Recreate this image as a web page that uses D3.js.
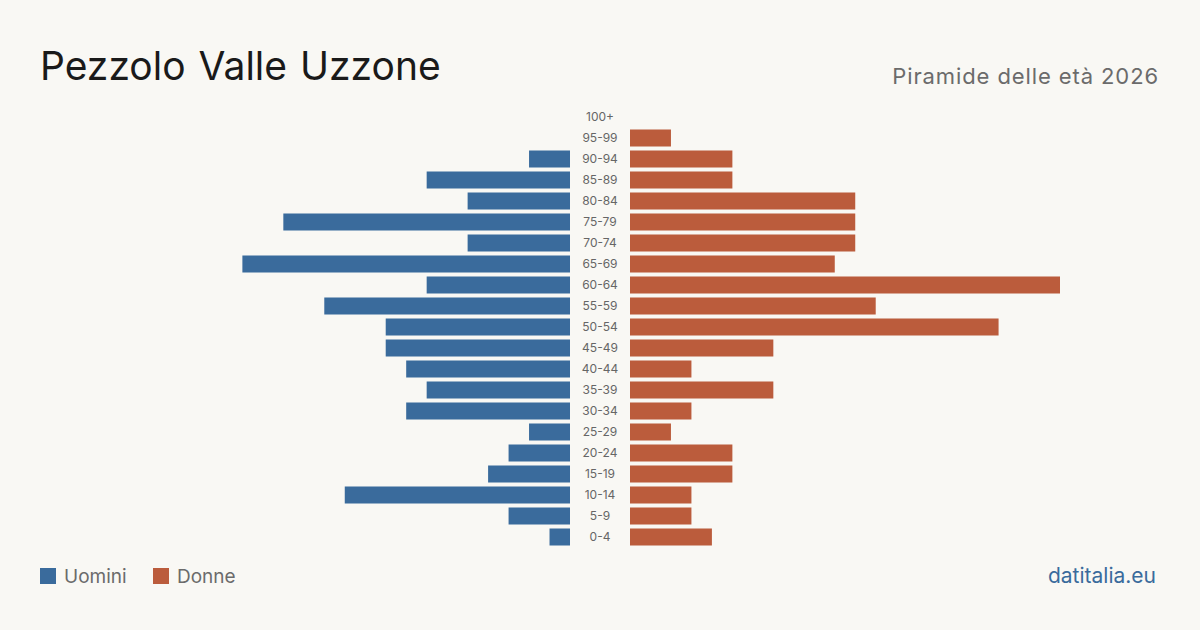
<!DOCTYPE html>
<html lang="it">
<head>
<meta charset="UTF-8">
<title>Pezzolo Valle Uzzone - Piramide delle età 2026</title>
<style>
    body { margin: 0; background: #f9f8f4; }
    svg { display: block; font-family: Inter, "Noto Sans", sans-serif; }
</style>
</head>
<body>
<div id="chart"></div>
<script src="https://d3js.org/d3.v7.min.js"></script>
<script>
    const ageGroups = ["100+", "95-99", "90-94", "85-89", "80-84", "75-79", "70-74", "65-69",
        "60-64", "55-59", "50-54", "45-49", "40-44", "35-39", "30-34", "25-29",
        "20-24", "15-19", "10-14", "5-9", "0-4"];
    const uomini = [0, 0, 2, 7, 5, 14, 5, 16, 7, 12, 9, 9, 8, 7, 8, 2, 3, 4, 11, 3, 1];
    const donne  = [0, 2, 5, 5, 11, 11, 11, 10, 21, 12, 18, 7, 3, 7, 3, 2, 5, 5, 3, 3, 4];

    const width = 1200, height = 630;
    const blue = "#3a6b9c", red = "#bb5c3c";

    const svg = d3.select("#chart").append("svg")
        .attr("width", width)
        .attr("height", height);

    svg.append("rect").attr("width", width).attr("height", height).attr("fill", "#f9f8f4");

    const y = d3.scaleBand()
        .domain(ageGroups)
        .range([106.5, 547.5])
        .paddingInner(0.19)
        .paddingOuter(0.095);

    const maxVal = d3.max(uomini.concat(donne));
    const xLeft = d3.scaleLinear().domain([0, maxVal]).range([570, 570 - 430]);
    const xRight = d3.scaleLinear().domain([0, maxVal]).range([630, 630 + 430]);

    // uomini
    svg.append("g").selectAll("rect")
        .data(ageGroups)
        .join("rect")
        .attr("x", (d, i) => xLeft(uomini[i]))
        .attr("y", d => y(d))
        .attr("width", (d, i) => xLeft(0) - xLeft(uomini[i]))
        .attr("height", y.bandwidth())
        .attr("fill", blue);

    // donne
    svg.append("g").selectAll("rect")
        .data(ageGroups)
        .join("rect")
        .attr("x", xRight(0))
        .attr("y", d => y(d))
        .attr("width", (d, i) => xRight(donne[i]) - xRight(0))
        .attr("height", y.bandwidth())
        .attr("fill", red);

    // etichette età
    svg.append("g").selectAll("text")
        .data(ageGroups)
        .join("text")
        .attr("x", 600)
        .attr("y", d => y(d) + y.bandwidth() / 2)
        .attr("dy", "0.35em")
        .attr("text-anchor", "middle")
        .attr("font-size", 12)
        .attr("fill", "#666")
        .text(d => d);

    // titoli
    svg.append("text")
        .attr("x", 40).attr("y", 80)
        .attr("font-size", 39)
        .attr("fill", "#1a1a1a")
        .attr("word-spacing", 2)
        .text("Pezzolo Valle Uzzone");

    svg.append("text")
        .attr("x", 1159).attr("y", 84)
        .attr("text-anchor", "end")
        .attr("font-size", 22)
        .attr("letter-spacing", 0.9)
        .attr("fill", "#6b6b6b")
        .text("Piramide delle età 2026");

    // legenda
    const legend = [["Uomini", blue, 40], ["Donne", red, 153]];
    legend.forEach(([name, color, lx]) => {
        svg.append("rect")
            .attr("x", lx).attr("y", 568)
            .attr("width", 16).attr("height", 16)
            .attr("fill", color);
        svg.append("text")
            .attr("x", lx + 24).attr("y", 583)
            .attr("font-size", 19)
            .attr("fill", "#6b6b6b")
            .text(name);
    });

    svg.append("text")
        .attr("x", 1156).attr("y", 583)
        .attr("text-anchor", "end")
        .attr("font-size", 21)
        .attr("fill", blue)
        .text("datitalia.eu");
</script>
</body>
</html>
